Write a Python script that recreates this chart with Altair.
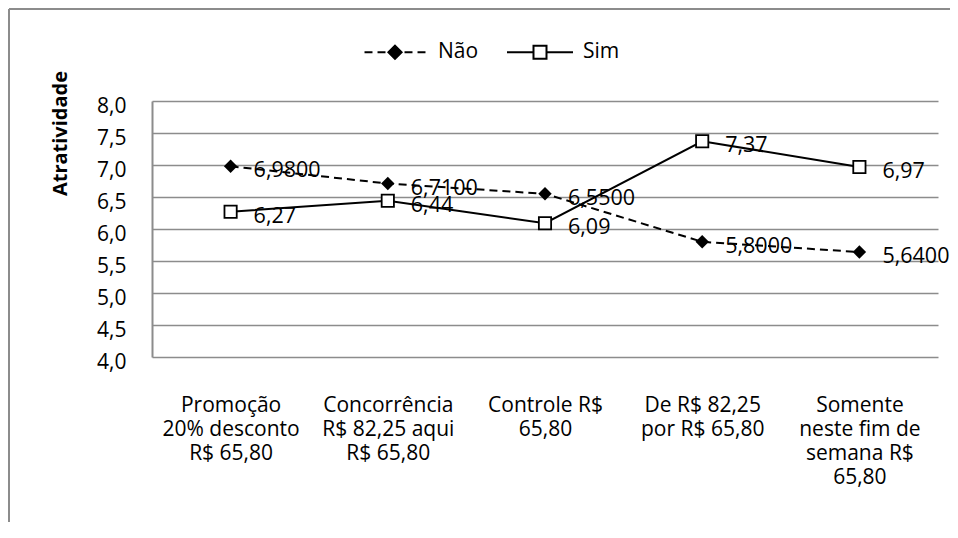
import altair as alt
import pandas as pd

categorias = [
    "Promoção\n20% desconto\nR$ 65,80",
    "Concorrência\nR$ 82,25 aqui\nR$ 65,80",
    "Controle R$\n65,80",
    "De R$ 82,25\npor R$ 65,80",
    "Somente\nneste fim de\nsemana R$\n65,80",
]
series = ["Não", "Sim"]
nao = [6.98, 6.71, 6.55, 5.80, 5.64]
sim = [6.27, 6.44, 6.09, 7.37, 6.97]
y_ticks = [4.0, 4.5, 5.0, 5.5, 6.0, 6.5, 7.0, 7.5, 8.0]

rows = []
for c, v in zip(categorias, nao):
    rows.append({"categoria": c, "serie": "Não", "valor": v,
                 "rotulo": f"{v:.4f}".replace(".", ",")})
for c, v in zip(categorias, sim):
    rows.append({"categoria": c, "serie": "Sim", "valor": v,
                 "rotulo": f"{v:.2f}".replace(".", ",")})
df = pd.DataFrame(rows)

FONT = "Open Sans"
GRID = "#8c8c8c"

x_enc = alt.X(
    "categoria:N",
    sort=categorias,
    scale=alt.Scale(type="point", padding=0.5),
    axis=alt.Axis(
        title=None,
        labelExpr="split(datum.label, '\\n')",
        labelAngle=0,
        labelFont=FONT,
        labelFontSize=21,
        labelLineHeight=24,
        labelColor="black",
        labelLimit=0,
        labelPadding=37,
        labelBaseline="top",
        labelOverlap=False,
        ticks=False,
        domain=False,
        grid=False,
    ),
)
y_enc = alt.Y(
    "valor:Q",
    scale=alt.Scale(domain=[4, 8], nice=False, zero=False),
    axis=alt.Axis(
        values=y_ticks,
        labelExpr="replace(format(datum.value, '.1f'), '.', ',')",
        labelOverlap=False,
        title="Atratividade",
        titleFont=FONT,
        titleFontSize=20,
        titleFontWeight="bold",
        titleColor="black",
        titleAngle=270,
        titleX=-92,
        titleY=32,
        titleAlign="center",
        titleBaseline="middle",
        labelFont=FONT,
        labelFontSize=21,
        labelColor="black",
        labelPadding=26,
        labelOffset=5,
        ticks=False,
        domainColor=GRID,
        domainWidth=2,
        grid=True,
        gridColor=GRID,
        gridWidth=1.5,
    ),
)

base = alt.Chart(df).encode(x=x_enc, y=y_enc)

line_nao = base.transform_filter(alt.datum.serie == "Não").mark_line(
    color="black", strokeWidth=2, strokeDash=[8, 5]
)
line_sim = base.transform_filter(alt.datum.serie == "Sim").mark_line(
    color="black", strokeWidth=2
)
pts_nao = base.transform_filter(alt.datum.serie == "Não").mark_point(
    shape="diamond", filled=True, color="black", size=180, opacity=1
)
pts_sim = base.transform_filter(alt.datum.serie == "Sim").mark_point(
    shape="square", filled=True, fill="white", stroke="black", strokeWidth=1.8,
    size=150, opacity=1
)
txt = base.mark_text(
    align="left", baseline="middle", dx=23, dy=5, font=FONT, fontSize=21.5,
    color="black"
).encode(text="rotulo:N")

path_nao = (
    "M-0.924,0 L-0.682,0 M-0.53,0 L-0.288,0 "
    "M0.288,0 L0.53,0 M0.682,0 L0.924,0 "
    "M0,-0.2 L0.2,0 L0,0.2 L-0.2,0 Z"
)
path_sim = (
    "M-1,0 L-0.197,0 M0.197,0 L1,0 "
    "M-0.197,-0.197 L0.197,-0.197 L0.197,0.197 L-0.197,0.197 Z"
)

leg = alt.Legend(
    title=None,
    orient="none",
    direction="horizontal",
    legendX=209,
    legendY=-83,
    symbolSize=4356,
    symbolStrokeWidth=2,
    symbolOpacity=1,
    labelFont=FONT,
    labelFontSize=21,
    labelColor="black",
    labelOffset=9,
    columnPadding=24,
)
legend_layer = (
    base.mark_point(filled=True, strokeWidth=2, size=4356, opacity=1)
    .encode(
        shape=alt.Shape("serie:N", scale=alt.Scale(domain=series, range=[path_nao, path_sim]), legend=leg),
        fill=alt.Fill("serie:N", scale=alt.Scale(domain=series, range=["black", "white"]), legend=leg),
        stroke=alt.Stroke("serie:N", scale=alt.Scale(domain=series, range=["black", "black"]), legend=leg),
    )
    .transform_filter("false")
)

frame_df = pd.DataFrame({"k": [0]})
frame_top = alt.Chart(frame_df).mark_rule(color=GRID, strokeWidth=2).encode(
    x=alt.value(-143), x2=alt.value(820), y=alt.value(-92)
)
frame_left = alt.Chart(frame_df).mark_rule(color=GRID, strokeWidth=2).encode(
    x=alt.value(-143), y=alt.value(-92), y2=alt.value(500)
)

chart = (
    alt.layer(frame_top, frame_left, line_nao, line_sim, txt, pts_nao, pts_sim, legend_layer)
    .properties(
        width=786,
        height=256,
        padding={"left": 144, "top": 93, "right": 12, "bottom": 165},
        autosize=alt.AutoSizeParams(type="none"),
        background="white",
    )
    .configure_view(stroke=None)
)

chart.save("out.html", embed_options={"renderer": "svg", "actions": False})
